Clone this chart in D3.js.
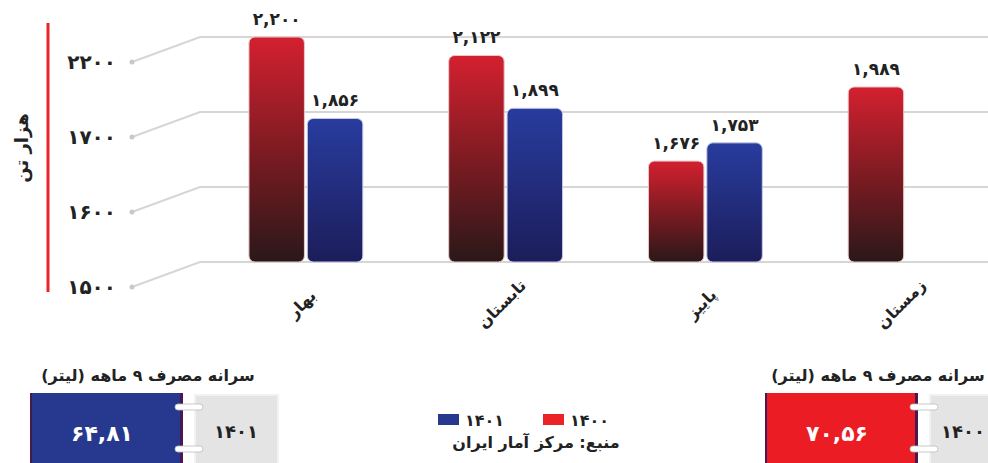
<!DOCTYPE html>
<html>
<head>
<meta charset="utf-8">
<script src="https://cdn.jsdelivr.net/npm/d3@7"></script>
<style>
  body { margin: 0; background: #fff; }
  text { font-family: "DejaVu Sans", sans-serif; font-weight: bold; }
</style>
</head>
<body>
<div id="wrapper"></div>
<script>
const categories = ['بهار', 'تابستان', 'پاییز', 'زمستان']
const values1400 = [2200, 2122, 1676, 1989]
const values1401 = [1856, 1899, 1753, null]
const yTickLabels = ['۱۵۰۰', '۱۶۰۰', '۱۷۰۰', '۲۲۰۰']
const seriesNames = ['۱۴۰۰', '۱۴۰۱']
const perCapita = [70.56, 64.81]

const faDigits = s => String(s).replace(/\d/g, d => '۰۱۲۳۴۵۶۷۸۹'[d])
const fmt = v => faDigits(d3.format(',')(v))
const fmtDec = v => faDigits(d3.format('.2f')(v).replace('.', ','))

const dimensions = { width: 988, height: 463 }

const svg = d3.select('#wrapper')
    .append('svg')
    .attr('width', dimensions.width)
    .attr('height', dimensions.height)

const defs = svg.append('defs')
const redGrad = defs.append('linearGradient').attr('id', 'redGrad')
    .attr('x1', 0).attr('y1', 0).attr('x2', 0).attr('y2', 1)
redGrad.append('stop').attr('offset', '0%').attr('stop-color', '#d4202f')
redGrad.append('stop').attr('offset', '50%').attr('stop-color', '#7e1b22')
redGrad.append('stop').attr('offset', '100%').attr('stop-color', '#2a1819')
const blueGrad = defs.append('linearGradient').attr('id', 'blueGrad')
    .attr('x1', 0).attr('y1', 0).attr('x2', 0).attr('y2', 1)
blueGrad.append('stop').attr('offset', '0%').attr('stop-color', '#283c9e')
blueGrad.append('stop').attr('offset', '100%').attr('stop-color', '#1c1d5a')

// scales
const baseline = 262
const yTick = d3.scalePoint().domain(yTickLabels).range([baseline, 37])
const yScale = d3.scaleLinear().domain([1250, 2200]).range([baseline, 37])

const x0 = d3.scaleBand()
    .domain(categories)
    .range([206, 1005])
    .paddingInner(0.43)
    .paddingOuter(0.215)
const x1 = d3.scaleBand()
    .domain(seriesNames)
    .range([0, x0.bandwidth()])
    .paddingInner(0.05)

// grid (perspective floor lines)
const grid = svg.append('g')
yTickLabels.forEach(t => {
  const y = yTick(t)
  grid.append('path')
      .attr('d', `M132,${y + 25} L200,${y} L988,${y}`)
      .attr('fill', 'none')
      .attr('stroke', '#d6d6d6')
      .attr('stroke-width', 2)
  grid.append('circle')
      .attr('cx', 132).attr('cy', y + 25).attr('r', 2.5)
      .attr('fill', '#c8c8c8')
  grid.append('text')
      .attr('x', 116).attr('y', y + 25)
      .attr('dy', '0.35em')
      .attr('text-anchor', 'end')
      .attr('font-size', 20)
      .attr('fill', '#222')
      .text(t)
})

// red axis line + title
svg.append('line')
    .attr('x1', 48).attr('x2', 48).attr('y1', 23).attr('y2', 292)
    .attr('stroke', '#ec2229').attr('stroke-width', 3)
svg.append('text')
    .attr('transform', 'translate(22,148) rotate(-90)')
    .attr('text-anchor', 'middle')
    .attr('dy', '0.35em')
    .attr('font-size', 18)
    .attr('fill', '#222')
    .text('هزار تن')

// bars
const barData = []
categories.forEach((c, i) => {
  barData.push({ cat: c, s: seriesNames[0], v: values1400[i] })
  if (values1401[i] != null) barData.push({ cat: c, s: seriesNames[1], v: values1401[i] })
})

const bars = svg.append('g')
bars.selectAll('rect')
    .data(barData)
    .enter()
    .append('rect')
    .attr('x', d => x0(d.cat) + x1(d.s))
    .attr('y', d => yScale(d.v))
    .attr('width', x1.bandwidth())
    .attr('height', d => baseline - yScale(d.v))
    .attr('rx', 6)
    .attr('fill', d => d.s === seriesNames[0] ? 'url(#redGrad)' : 'url(#blueGrad)')
    .attr('stroke', d => d.s === seriesNames[0] ? '#e9c7c9' : '#c5c8e6')
    .attr('stroke-width', 1)

bars.selectAll('text')
    .data(barData)
    .enter()
    .append('text')
    .attr('x', d => x0(d.cat) + x1(d.s) + x1.bandwidth() / 2)
    .attr('y', d => yScale(d.v) - 12)
    .attr('text-anchor', 'middle')
    .attr('font-size', 17)
    .attr('fill', '#222')
    .text(d => fmt(d.v))

// category labels
svg.append('g').selectAll('text')
    .data(categories)
    .enter()
    .append('text')
    .attr('transform', d => `translate(${x0(d) + x0.bandwidth() / 2 - 4},${304}) rotate(-45)`)
    .attr('text-anchor', 'middle')
    .attr('dy', '0.35em')
    .attr('font-size', 16)
    .attr('fill', '#222')
    .text(d => d)

// legend
const legend = svg.append('g')
const legendItems = [
  { name: seriesNames[1], color: '#27398f', x: 438 },
  { name: seriesNames[0], color: '#ec2229', x: 543 }
]
legendItems.forEach(l => {
  legend.append('rect')
      .attr('x', l.x).attr('y', 414).attr('width', 21).attr('height', 11)
      .attr('fill', l.color)
  legend.append('text')
      .attr('x', l.x + 27).attr('y', 420).attr('dy', '0.35em')
      .attr('font-size', 16).attr('fill', '#222')
      .text(l.name)
})
legend.append('text')
    .attr('x', 536).attr('y', 442).attr('dy', '0.35em')
    .attr('text-anchor', 'middle')
    .attr('font-size', 16).attr('fill', '#222')
    .text('منبع: مرکز آمار ایران')

// per-capita cards
function card(bx, color, value, year, yearX, titleX) {
  const g = svg.append('g')
  g.append('text')
      .attr('x', titleX).attr('y', 375).attr('dy', '0.35em')
      .attr('text-anchor', 'middle')
      .attr('font-size', 16).attr('fill', '#222')
      .text('سرانه مصرف ۹ ماهه (لیتر)')
  g.append('rect')
      .attr('x', bx).attr('y', 393).attr('width', 153).attr('height', 80)
      .attr('fill', color)
  g.append('rect')
      .attr('x', bx).attr('y', 393).attr('width', 2).attr('height', 80)
      .attr('fill', '#4a1850')
  g.append('rect')
      .attr('x', bx + 150).attr('y', 393).attr('width', 3).attr('height', 80)
      .attr('fill', '#4a1850')
  g.append('text')
      .attr('x', bx + 72).attr('y', 433).attr('dy', '0.35em')
      .attr('text-anchor', 'middle')
      .attr('font-size', 22).attr('fill', '#fff')
      .text(value)
  g.append('rect')
      .attr('x', bx + 165).attr('y', 395).attr('width', 83).attr('height', 80)
      .attr('fill', '#e4e4e4').attr('stroke', '#f2f2f2').attr('stroke-width', 2)
  g.append('text')
      .attr('x', yearX).attr('y', 432).attr('dy', '0.35em')
      .attr('text-anchor', 'middle')
      .attr('font-size', 18).attr('fill', '#222')
      .text(year)
  ;[407, 449].forEach(y => {
    g.append('rect')
        .attr('x', bx + 145).attr('y', y - 3).attr('width', 28).attr('height', 6)
        .attr('rx', 3)
        .attr('fill', '#fff').attr('stroke', '#bbb').attr('stroke-width', 0.8)
  })
}
card(30, '#27398f', fmtDec(perCapita[1]), seriesNames[1], 236, 148)
card(765, '#ec1c24', fmtDec(perCapita[0]), seriesNames[0], 963, 878)
</script>
</body>
</html>
